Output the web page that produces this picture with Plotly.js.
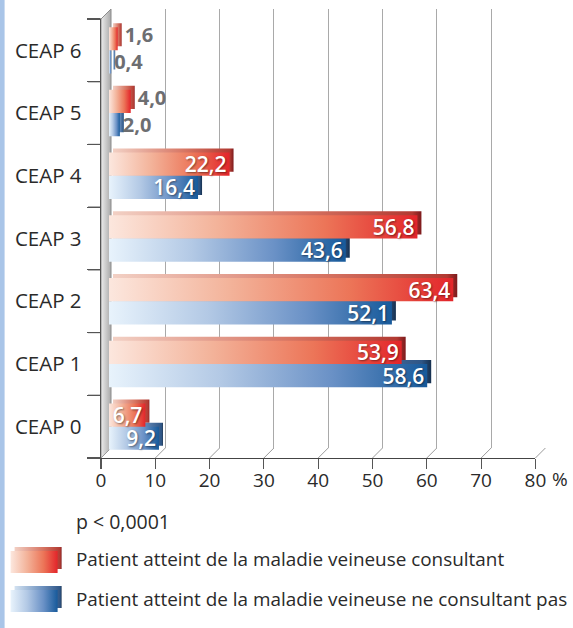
<!DOCTYPE html>
<html><head><meta charset="utf-8">
<script src="https://cdn.plot.ly/plotly-3.0.1.min.js"></script>
<style>html,body{margin:0;padding:0;background:#fff;overflow:hidden}#chart{width:573px;height:628px}</style>
</head><body>
<svg width="0" height="0" style="position:absolute">
 <defs>
  <linearGradient id="gRed" x1="0" y1="0" x2="1" y2="0">
   <stop offset="0" stop-color="#fce7de"/><stop offset="0.35" stop-color="#f3b39a"/>
   <stop offset="0.7" stop-color="#ec7558"/><stop offset="1" stop-color="#e3252a"/>
  </linearGradient>
  <linearGradient id="gBlue" x1="0" y1="0" x2="1" y2="0">
   <stop offset="0" stop-color="#e8f3fc"/><stop offset="0.35" stop-color="#b3c9e5"/>
   <stop offset="0.7" stop-color="#6a91c6"/><stop offset="1" stop-color="#175a9b"/>
  </linearGradient>
  <linearGradient id="gRedSide" x1="0" y1="0" x2="1" y2="0">
   <stop offset="0" stop-color="#f2d0c4"/><stop offset="0.6" stop-color="#d77563"/>
   <stop offset="0.97" stop-color="#b23a32"/><stop offset="1" stop-color="#7d1a1c"/>
  </linearGradient>
  <linearGradient id="gBlueSide" x1="0" y1="0" x2="1" y2="0">
   <stop offset="0" stop-color="#d3e2f1"/><stop offset="0.6" stop-color="#6b8fbd"/>
   <stop offset="0.97" stop-color="#2f5686"/><stop offset="1" stop-color="#16304f"/>
  </linearGradient>
  <linearGradient id="gWall" x1="0" y1="0" x2="1" y2="0">
   <stop offset="0" stop-color="#ececec"/><stop offset="1" stop-color="#a8a8a8"/>
  </linearGradient>
 </defs>
</svg>
<div id="chart"></div>
<script>
// ---------- data ----------
const categories = ['CEAP 0','CEAP 1','CEAP 2','CEAP 3','CEAP 4','CEAP 5','CEAP 6'];
const consultant = [6.7, 53.9, 63.4, 56.8, 22.2, 4.0, 1.6];
const nonConsultant = [9.2, 58.6, 52.1, 43.6, 16.4, 2.0, 0.4];
const seriesNames = ['Patient atteint de la maladie veineuse consultant',
                     'Patient atteint de la maladie veineuse ne consultant pas'];
const xTicks = [0,10,20,30,40,50,60,70,80];
const pValueText = 'p < 0,0001';
const unitText = '%';

// ---------- geometry / style ----------
const W=573, H=628, ML=101.4, MT=9, PW=450, PH=449;
const MR=W-ML-PW, MB=H-MT-PH;
const UNIT=5.43, AXIS_PX=80*UNIT, DEPTH=10, BAR_SHIFT=8, FACE=4;
const CAT_PX=(PH-DEPTH)/categories.length, BW=0.37;
const FONT='Open Sans', TXT='#2a2a2a', AX='#555555';
const fx=px=>(px-ML)/PW, fy=py=>(MT+PH-py)/PH;
const fmt=v=>v.toFixed(1).replace('.',',');
const INSIDE_MIN=5;
const outFont={family:FONT,size:20,weight:700,color:'#6d6e71'};
const inFont={family:FONT,size:21,weight:600,color:'#ffffff',shadow:'1px 1px 2px rgba(0,0,0,0.45)'};

function barTraces(vals, name, off, mainColor, outsideOnShadow){
  const small=vals.map(v=>v<INSIDE_MIN);
  const shadow={type:'bar',orientation:'h',y:categories,x:vals,xaxis:'x3',yaxis:'y',
    base:FACE/UNIT, offset:off+FACE/CAT_PX, width:BW, marker:{color:mainColor,line:{width:0}},
    text:vals.map((v,i)=>outsideOnShadow&&small[i]?fmt(v):''), textposition:'outside', textangle:0,
    constraintext:'none', cliponaxis:false, outsidetextfont:outFont,
    hoverinfo:'skip', showlegend:false, name:name+' (3D)'};
  const main={type:'bar',orientation:'h',y:categories,x:vals,xaxis:'x3',yaxis:'y',
    offset:off, width:BW, marker:{color:mainColor,line:{width:0}}, name:name,
    text:vals.map((v,i)=>small[i]?(outsideOnShadow?'':fmt(v)):fmt(v)),
    textposition:small.map(s=>s?'outside':'inside'), insidetextanchor:'end', textangle:0,
    constraintext:'none', cliponaxis:false, showlegend:false,
    insidetextfont:inFont, outsidetextfont:outFont,
    hovertemplate:'%{y}: %{x}<extra></extra>'};
  return [shadow, main];
}
const [shRed, mRed] = barTraces(consultant, seriesNames[0], 0, '#e3252a', true);
const [shBlue, mBlue] = barTraces(nonConsultant, seriesNames[1], -BW, '#175a9b', false);
const traces = [shRed, shBlue, mBlue, mRed,
  {type:'scatter',x:[],y:[],xaxis:'x',yaxis:'y',showlegend:false,hoverinfo:'skip'},
  {type:'scatter',x:[],y:[],xaxis:'x2',yaxis:'y2',showlegend:false,hoverinfo:'skip'}];
const grad = {0:'gRedSide',1:'gBlueSide',2:'gBlue',3:'gRed'};

// ---------- shapes ----------
const shapes=[]; const shapeGrad={};
shapes.push({type:'rect',xref:'paper',yref:'paper',x0:fx(0),x1:fx(5),y0:fy(H),y1:fy(0),
  fillcolor:'#a9c5e8',line:{width:0},layer:'below'});
shapeGrad[shapes.length]='gWall';
shapes.push({type:'path',xref:'paper',yref:'paper',layer:'below',fillcolor:'#cccccc',
  line:{color:'#8c8c8c',width:1},
  path:`M${fx(ML)},${fy(MT+DEPTH)} L${fx(ML+DEPTH)},${fy(MT)} L${fx(ML+DEPTH)},${fy(MT+PH-DEPTH)} L${fx(ML)},${fy(MT+PH)} Z`});
// floor connectors from front x ticks to the back grid
xTicks.forEach(t=>{
  shapes.push({type:'line',xref:'paper',yref:'paper',layer:'below',
    x0:fx(ML+t*UNIT),y0:fy(MT+PH),x1:fx(ML+DEPTH+t*UNIT),y1:fy(MT+PH-DEPTH),
    line:{color:'#9a9a9a',width:1}});
});
// category boundary ticks on the front y axis
for(let i=0;i<=categories.length;i++){
  const py=MT+PH-i*CAT_PX;
  shapes.push({type:'line',xref:'paper',yref:'paper',x0:fx(ML-13),x1:fx(ML),y0:fy(py),y1:fy(py),
    line:{color:AX,width:1.2}});
}
function legendBox(top, sideGrad, faceGrad){
  const x0=11, x1=58, y0=top, y1=top+22;
  shapeGrad[shapes.length]=sideGrad;
  shapes.push({type:'rect',xref:'paper',yref:'paper',x0:fx(x0+FACE),x1:fx(x1+FACE),y0:fy(y1-FACE),y1:fy(y0-FACE),
    fillcolor:'#999',line:{width:0}});
  shapeGrad[shapes.length]=faceGrad;
  shapes.push({type:'rect',xref:'paper',yref:'paper',x0:fx(x0),x1:fx(x1),y0:fy(y1),y1:fy(y0),
    fillcolor:'#ccc',line:{width:0}});
}
legendBox(551,'gRedSide','gRed');
legendBox(590,'gBlueSide','gBlue');

// ---------- annotations ----------
const ann=(text,x,y,size,xa)=>({text,xref:'paper',yref:'paper',x:fx(x),y:fy(y),xanchor:xa,yanchor:'middle',
  showarrow:false,font:{family:FONT,size,color:TXT}});
const annotations=[
  ann(unitText,560,479,19,'center'),
  ann(pValueText,74,521,19.5,'left'),
  ann(seriesNames[0],74,559,18.9,'left'),
  ann(seriesNames[1],74,599,18.9,'left')
];

const layout={
  width:W,height:H,margin:{l:ML,r:MR,t:MT,b:MB,pad:0},
  paper_bgcolor:'#ffffff',plot_bgcolor:'rgba(0,0,0,0)',
  barmode:'overlay',showlegend:false,
  xaxis:{domain:[0,AXIS_PX/PW],range:[0,80],anchor:'y',tickvals:xTicks,ticks:'outside',ticklen:10,
    tickcolor:AX,tickwidth:1.2,showline:true,linecolor:'#444',linewidth:1.3,showgrid:false,zeroline:false,
    ticklabelstandoff:-5,tickfont:{family:FONT,size:19,color:TXT},fixedrange:true},
  yaxis:{domain:[0,(PH-DEPTH)/PH],type:'category',categoryarray:categories,categoryorder:'array',
    range:[-0.5,categories.length-0.5],anchor:'x',showline:true,linecolor:AX,linewidth:1.3,
    ticks:'outside',ticklen:13,tickcolor:AX,tickwidth:1.2,tickson:'boundaries',ticklabelstandoff:14,
    showgrid:false,zeroline:false,tickfont:{family:FONT,size:20.5,color:TXT},fixedrange:true},
  xaxis2:{domain:[DEPTH/PW,(DEPTH+AXIS_PX)/PW],range:[0,80],anchor:'y2',tickvals:xTicks,
    showticklabels:false,ticks:'',showline:false,zeroline:false,showgrid:true,gridcolor:'#a9a9a9',gridwidth:1,fixedrange:true},
  yaxis2:{domain:[DEPTH/PH,1],range:[0,1],anchor:'x2',visible:false,fixedrange:true},
  xaxis3:{domain:[BAR_SHIFT/PW,(BAR_SHIFT+AXIS_PX)/PW],range:[0,80],anchor:'y',visible:false,fixedrange:true},
  shapes:shapes,annotations:annotations
};

Plotly.newPlot('chart',traces,layout,{displayModeBar:false,staticPlot:true}).then(gd=>{
  document.querySelectorAll('.barlayer .trace').forEach(el=>{
    const d=el.__data__; if(!d||!d[0]||!d[0].trace) return;
    const g=grad[d[0].trace.index]; if(!g) return;
    el.querySelectorAll('.point path').forEach(p=>{p.style.fill='url(#'+g+')';});
  });
  document.querySelectorAll('.shapelayer path').forEach(p=>{
    const i=p.getAttribute('data-index'); if(i!==null && shapeGrad[i]) p.style.fill='url(#'+shapeGrad[i]+')';
  });
});
</script>
</body></html>
